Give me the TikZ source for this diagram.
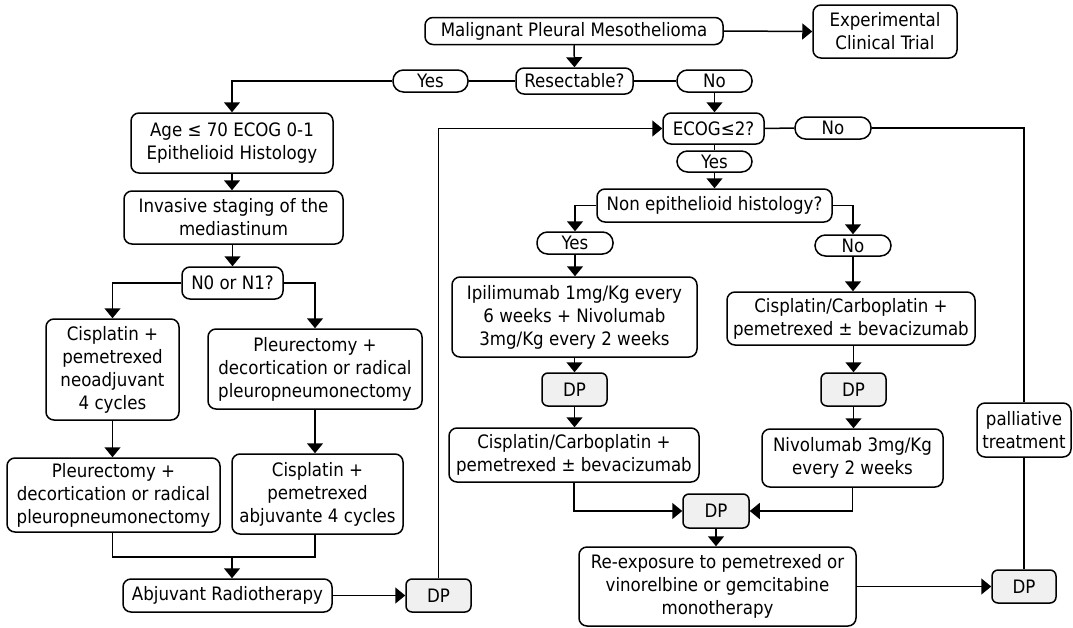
\documentclass[tikz,border=0pt]{standalone}
\usepackage{fontspec}
\setmainfont{DejaVu Sans Condensed}
\usetikzlibrary{arrows.meta}
\newcommand\myfs{\fontsize{18.5}{23}\selectfont}
\begin{document}
\begin{tikzpicture}[x=1pt,y=-1pt,
  base/.style={draw, line width=1.5pt, align=center, inner sep=0pt, font=\myfs},
  box/.style={base, rounded corners=8pt},
  pill/.style={base, rounded corners=10.5pt},
  dpbox/.style={base, rounded corners=6pt, fill=black!6, minimum width=65pt, minimum height=33pt},
  conn/.style={line width=1.5pt},
  arr/.style={conn, -{Triangle[width=16pt,length=10pt]}}
]
\useasboundingbox[fill=white] (0,0) rectangle (1073,627);

% top
\node[box, minimum width=298pt, minimum height=27pt] (mpm) at (574,31) {Malignant Pleural Mesothelioma};
\node[box, minimum width=144pt, minimum height=53pt] (ect) at (885,31.5) {Experimental\\Clinical Trial};
\node[box, minimum width=117pt, minimum height=26pt] (res) at (574.5,81) {Resectable?};
\node[pill, minimum width=75pt, minimum height=22pt] (yes1) at (430.5,81) {Yes};
\node[pill, minimum width=75pt, minimum height=22pt] (no1) at (714.5,81) {No};

% left branch
\node[box, minimum width=202pt, minimum height=60pt] (age) at (232,143) {Age ≤ 70 ECOG 0-1\\Epithelioid Histology};
\node[box, minimum width=219pt, minimum height=53pt] (inv) at (233.5,217.5) {Invasive staging of the\\mediastinum};
\node[box, minimum width=101pt, minimum height=32pt] (n0) at (232.5,283) {N0 or N1?};
\node[box, minimum width=133pt, minimum height=101pt] (cis1) at (112.5,369.5) {Cisplatin +\\pemetrexed\\neoadjuvant\\4 cycles};
\node[box, minimum width=214pt, minimum height=80pt] (ple1) at (315,369) {Pleurectomy +\\decortication or radical\\pleuropneumonectomy};
\node[box, minimum width=213pt, minimum height=74pt] (ple2) at (113.5,495) {Pleurectomy +\\decortication or radical\\pleuropneumonectomy};
\node[box, minimum width=171pt, minimum height=80pt] (cis2) at (317.5,494) {Cisplatin +\\pemetrexed\\abjuvante 4 cycles};
\node[box, minimum width=209pt, minimum height=33pt] (abj) at (227.5,595.5) {Abjuvant Radiotherapy};
\node[dpbox] (dp1) at (438.5,595.5) {DP};
\coordinate (merge) at (232,557);

% right branch
\node[box, minimum width=101pt, minimum height=31pt] (ecog) at (713.5,128.5) {ECOG≤2?};
\node[pill, minimum width=76pt, minimum height=22pt] (no2) at (833,128) {No};
\node[pill, minimum width=75pt, minimum height=21pt] (yes2) at (714.5,161.5) {Yes};
\node[box, minimum width=235pt, minimum height=33pt] (nonep) at (714.5,205.5) {Non epithelioid histology?};
\node[pill, minimum width=76pt, minimum height=22pt] (yes3) at (575,243) {Yes};
\node[pill, minimum width=76pt, minimum height=21pt] (no3) at (853,245.5) {No};
\node[box, minimum width=245pt, minimum height=80pt] (ipi) at (574.5,317) {Ipilimumab 1mg/Kg every\\6 weeks + Nivolumab\\3mg/Kg every 2 weeks};
\node[box, minimum width=248pt, minimum height=53pt] (cc1) at (851,318.5) {Cisplatin/Carboplatin +\\pemetrexed ± bevacizumab};
\node[dpbox] (dp2) at (574.5,389.5) {DP};
\node[dpbox] (dp3) at (853.5,389.5) {DP};
\node[box, minimum width=250pt, minimum height=54pt] (cc2) at (574,455) {Cisplatin/Carboplatin +\\pemetrexed ± bevacizumab};
\node[box, minimum width=181pt, minimum height=58pt] (niv) at (852.5,458) {Nivolumab 3mg/Kg\\every 2 weeks};
\node[dpbox, minimum width=66pt, minimum height=34pt] (dp4) at (716,511) {DP};
\node[box, minimum width=277pt, minimum height=79pt] (reexp) at (717.5,586.5) {Re-exposure to pemetrexed or\\vinorelbine or gemcitabine\\monotherapy};
\node[box, minimum width=94pt, minimum height=54pt] (pal) at (1024,430) {palliative\\treatment};
\node[dpbox, minimum width=64pt] (dp5) at (1024,586.5) {DP};

% connectors top
\draw[arr] (mpm.east) -- (ect.west);
\draw[arr] (mpm.south) -- (res.north);
\draw[conn] (res.west) -- (yes1.east);
\draw[arr] (yes1.west) -| (age.north);
\draw[conn] (res.east) -- (no1.west);
\draw[arr] (no1.south) -- (no1.south |- ecog.north);

% left
\draw[arr] (age.south) -- (age.south |- inv.north);
\draw[arr] (inv.south -| n0.north) -- (n0.north);
\draw[arr] (n0.west) -| (cis1.north);
\draw[arr] (n0.east) -| (ple1.north);
\draw[arr] (cis1.south) -- (cis1.south |- ple2.north);
\draw[arr] (ple1.south) -- (ple1.south |- cis2.north);
\draw[conn] (ple2.south -| cis1.south) |- (merge) -| (cis2.south -| ple1.south);
\draw[arr] (merge) -- (merge |- abj.north);
\draw[arr] (abj.east) -- (dp1.west);
\draw[arr] (dp1.north) |- (ecog.west);

% right
\draw[conn] (ecog.east) -- (no2.west);
\draw[conn] (no2.east) -| (pal.north);
\draw[conn] (pal.south) -- (dp5.north);
\draw[conn] (ecog.south -| yes2.north) -- (yes2.north);
\draw[arr] (yes2.south) -- (nonep.north);
\draw[arr] (nonep.west) -| (yes3.north);
\draw[arr] (nonep.east) -| (no3.north);
\draw[arr] (yes3.south) -- (yes3.south |- ipi.north);
\draw[arr] (ipi.south) -- (ipi.south |- dp2.north);
\draw[arr] (dp2.south) -- (dp2.south |- cc2.north);
\draw[arr] (no3.south) -- (no3.south |- cc1.north);
\draw[arr] (cc1.south -| dp3.north) -- (dp3.north);
\draw[arr] (dp3.south) -- (dp3.south |- niv.north);
\draw[arr] (cc2.south) |- (dp4.west);
\draw[arr] (niv.south) |- (dp4.east);
\draw[arr] (dp4.south) -- (dp4.south |- reexp.north);
\draw[arr] (reexp.east) -- (dp5.west);
\end{tikzpicture}
\end{document}
